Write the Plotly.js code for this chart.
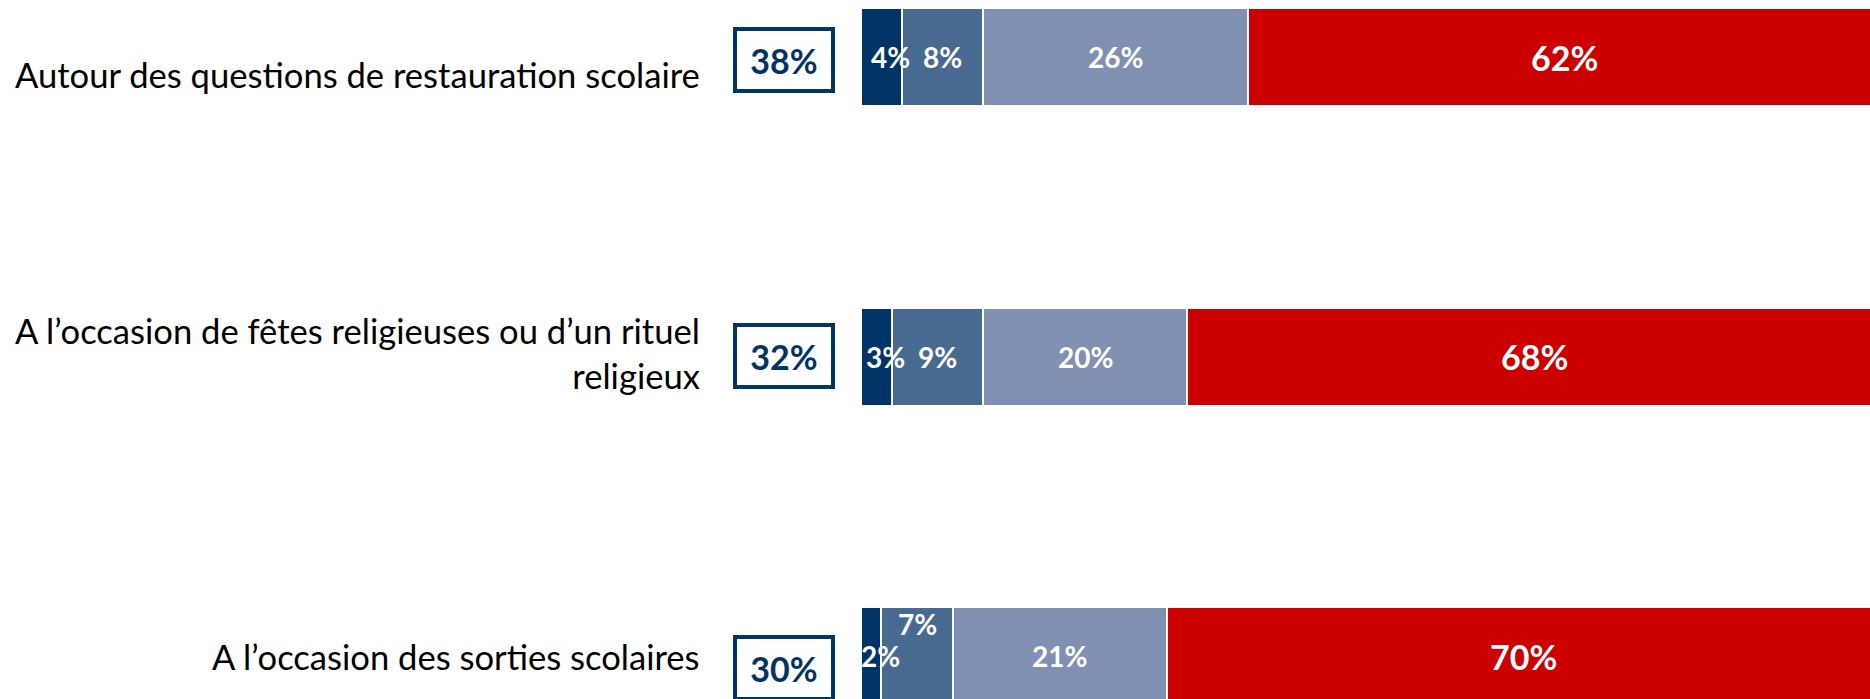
<!DOCTYPE html>
<html>
<head>
<meta charset="utf-8">
<script src="https://cdn.plot.ly/plotly-3.0.1.min.js"></script>
<style>html,body{margin:0;padding:0;background:#fff;}#chart{width:1870px;height:699px;}</style>
</head>
<body>
<div id="chart"></div>
<script>
// ---- data ----
const categories = [
  "Autour des questions de restauration scolaire",
  "A l’occasion de fêtes religieuses ou d’un rituel<br>religieux",
  "A l’occasion des sorties scolaires"
];
const totals = [38, 32, 30];          // boxed totals
const seriesDark = [4, 3, 2];
const seriesMid = [8, 9, 7];
const seriesLight = [26, 20, 21];
const seriesRed = [62, 68, 70];

// ---- styles ----
const colors = ["#003366", "#476A91", "#8090B2", "#CC0000"];
const series = [seriesDark, seriesMid, seriesLight, seriesRed];
const FONT = "Lato, 'Open Sans', sans-serif";

const traces = series.map((vals, j) => ({
  type: "bar",
  orientation: "h",
  y: categories,
  x: vals,
  marker: {color: colors[j], line: {color: "#ffffff", width: 2}},
  width: 0.327,
  hoverinfo: "skip",
  textposition: "none",
  showlegend: false
}));

const annotations = [];
const labelShift = [-17, 4, 0];
const boxShift = [-3, 1, -12];
categories.forEach((cat, i) => {
  let start = 0;
  series.forEach((vals, j) => {
    const v = vals[i];
    const a = {
      xref: "x", yref: "y",
      x: start + v / 2, y: cat,
      text: "<b>" + v + "%</b>",
      showarrow: false,
      font: {family: FONT, color: "#ffffff", size: j === 3 ? 34 : 28},
      xanchor: "center", yanchor: "middle"
    };
    if (j === 0) a.xshift = 9;
    if (i === 2 && j === 1) a.yshift = 32;
    annotations.push(a);
    start += v;
  });
  // boxed total
  annotations.push({
    xref: "x", yref: "y",
    x: 0, y: cat,
    xanchor: "right", yanchor: "middle",
    xshift: -26, yshift: boxShift[i],
    text: "<b>" + totals[i] + "%</b>",
    showarrow: false,
    font: {family: FONT, color: "#003366", size: 34},
    bordercolor: "#003366", borderwidth: 4, borderpad: 0,
    bgcolor: "#ffffff",
    width: 94, height: 58, align: "center", valign: "middle"
  });
  // category label
  annotations.push({
    xref: "x", yref: "y",
    x: 0, y: cat,
    xanchor: "right", yanchor: "middle",
    xshift: -159, yshift: labelShift[i],
    text: cat,
    align: "right",
    showarrow: false,
    font: {family: FONT, color: "#000000", size: 34.6}
  });
});

const layout = {
  width: 1870, height: 699,
  margin: {l: 861, r: 0, t: 0, b: 0, pad: 0},
  barmode: "stack",
  paper_bgcolor: "#ffffff", plot_bgcolor: "#ffffff",
  xaxis: {range: [0, 98.95], visible: false, fixedrange: true},
  yaxis: {
    type: "category",
    categoryarray: categories,
    range: [2.1436, -0.191],
    showgrid: false, zeroline: false, showline: false,
    ticks: "", showticklabels: false,
    automargin: false, fixedrange: true
  },
  annotations: annotations,
  font: {family: FONT}
};

Plotly.newPlot("chart", traces, layout, {displayModeBar: false, staticPlot: true});
</script>
</body>
</html>
